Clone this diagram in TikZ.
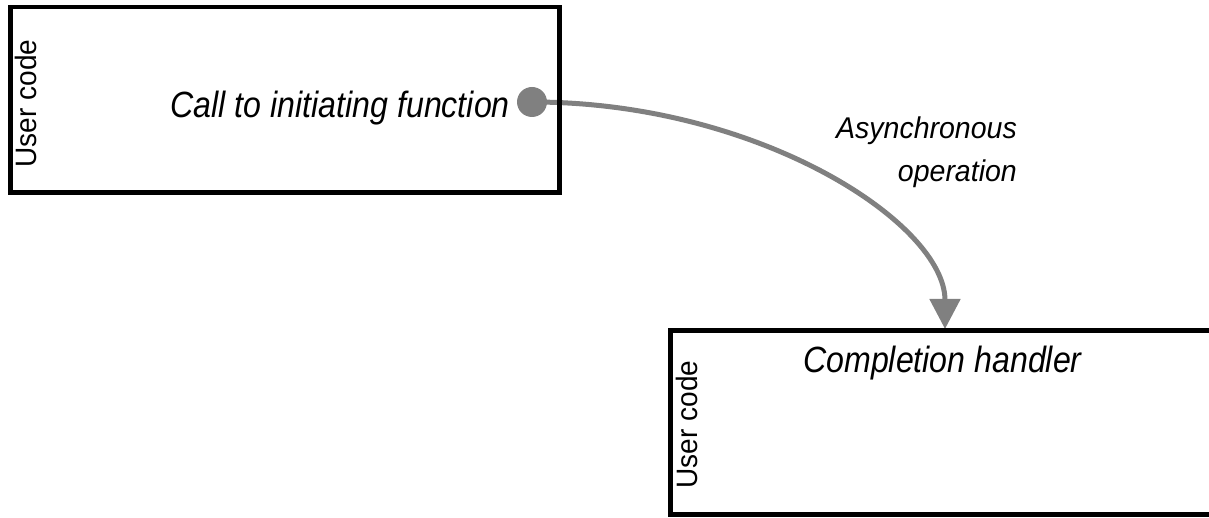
\documentclass[tikz,border=0pt]{standalone}
\usepackage{fontspec}
\setmainfont{Liberation Sans}
\newfontfamily\narrowsans{Liberation Sans}[FakeStretch=0.88]
\newfontfamily\slimsans{Liberation Sans}[FakeStretch=0.95]
\usetikzlibrary{arrows.meta}
\pgfdeclarelayer{background}
\pgfsetlayers{background,main}
\definecolor{flowgray}{RGB}{128,128,128}
\tikzset{
  codebox/.style={draw=black, line width=4.5pt, inner sep=0pt},
  sidelabel/.style={rotate=90, anchor=base, inner sep=0pt,
    font=\slimsans\fontsize{29.5}{32}\selectfont},
  steptext/.style={inner sep=0pt,
    font=\narrowsans\fontsize{36.5}{40}\selectfont\itshape},
  flowtext/.style={inner sep=0pt, align=right,
    font=\slimsans\fontsize{30}{43}\selectfont\itshape},
  startdot/.style={circle, fill=flowgray, minimum size=30pt, inner sep=0pt},
  flow/.style={draw=flowgray, line width=5pt,
    -{Triangle[length=30pt, width=30pt]}},
}
\begin{document}
\begin{tikzpicture}[x=1pt, y=-1pt]
\useasboundingbox (0,0) rectangle (1209,518);

% the two blocks of user code
\node[codebox, minimum width=549pt, minimum height=185.5pt] (initbox) at (285,99.75) {};
\node[codebox, minimum width=544.5pt, minimum height=184pt] (handlerbox) at (942.75,422.5) {};

\node[sidelabel] (initside) at (36,103.5) {User code};
\node[sidelabel] (handlerside) at (697,424.5) {User code};

\node[steptext, anchor=base east] (call) at (510,117.5) {Call to initiating function};
\node[steptext, anchor=base west] (handler) at (803,372) {Completion handler};

% start of the asynchronous operation and where it completes
\node[startdot] (start) at (532,102) {};
\coordinate (done) at (945,329);

\begin{pgfonlayer}{background}
  \draw[flow] (start.center) .. controls +(228,0) and +(0,-105) .. (done);
\end{pgfonlayer}

% the last line's baseline is the node's base
\node[flowtext, anchor=base east] (async) at (1017,182) {Asynchronous\\operation};
\end{tikzpicture}
\end{document}
